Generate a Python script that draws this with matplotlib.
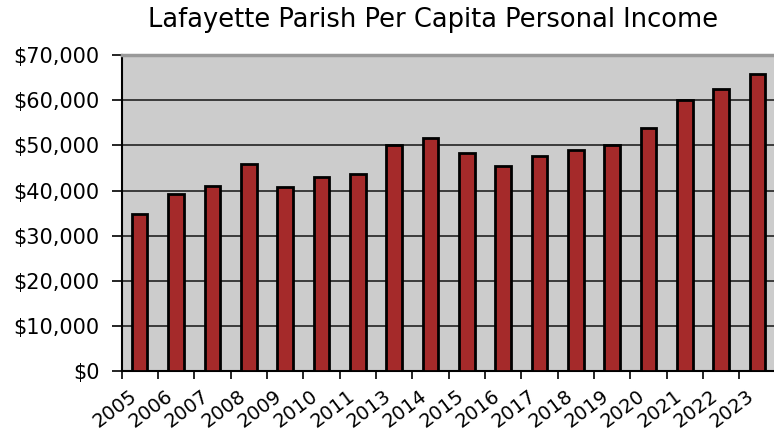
import numpy as np
import matplotlib.pyplot as plt
import matplotlib.transforms as mtransforms
from matplotlib.ticker import FuncFormatter

years = ['2005', '2006', '2007', '2008', '2009', '2010', '2011', '2013', '2014',
         '2015', '2016', '2017', '2018', '2019', '2020', '2021', '2022', '2023']
income = [34900, 39300, 41000, 45800, 40800, 43100, 43700, 50000, 51700,
          48400, 45500, 47600, 49000, 50000, 53800, 60100, 62400, 65900]
y_ticks = [0, 10000, 20000, 30000, 40000, 50000, 60000, 70000]

fig = plt.figure(figsize=(7.74, 4.38), dpi=100)
ax = fig.add_axes([0.157, 0.153, 0.845, 0.721])
ax.set_facecolor('#cccccc')

x = np.arange(len(years))
ax.bar(x, income, width=0.43, color='#a52a2a', edgecolor='black', linewidth=2, zorder=3)

ax.set_xlim(-0.5, len(years) - 0.5)
ax.set_ylim(0, 70000)
ax.set_yticks(y_ticks)
ax.yaxis.set_major_formatter(FuncFormatter(lambda v, p: f'${v:,.0f}'))
ax.grid(axis='y', color='#222222', linewidth=1.2, zorder=1)

# ticks between categories, labels at centres
ax.set_xticks(np.arange(len(years) + 1) - 0.5)
ax.set_xticklabels([])
ax.set_xticks(x, minor=True)
ax.set_xticklabels(years, minor=True, rotation=37, ha='right', rotation_mode='anchor', fontsize=14)
ax.tick_params(axis='x', which='minor', length=0, pad=11)
ax.tick_params(axis='x', which='major', length=6, width=1.2, direction='out')
ax.tick_params(axis='y', length=7, width=1.2, labelsize=15, pad=9)

# nudge the year labels left like the original
shift = mtransforms.ScaledTranslation(-11 / 100, 0, fig.dpi_scale_trans)
for lbl in ax.get_xticklabels(minor=True):
    lbl.set_transform(lbl.get_transform() + shift)

ax.spines['right'].set_visible(False)
ax.spines['top'].set_color('#999999')
ax.spines['top'].set_linewidth(2.5)
ax.spines['left'].set_linewidth(1.5)
ax.spines['bottom'].set_linewidth(1.5)

fig.suptitle('Lafayette Parish Per Capita Personal Income', fontsize=18.5, x=0.56, y=0.985)

plt.savefig('out.png', dpi=100)
